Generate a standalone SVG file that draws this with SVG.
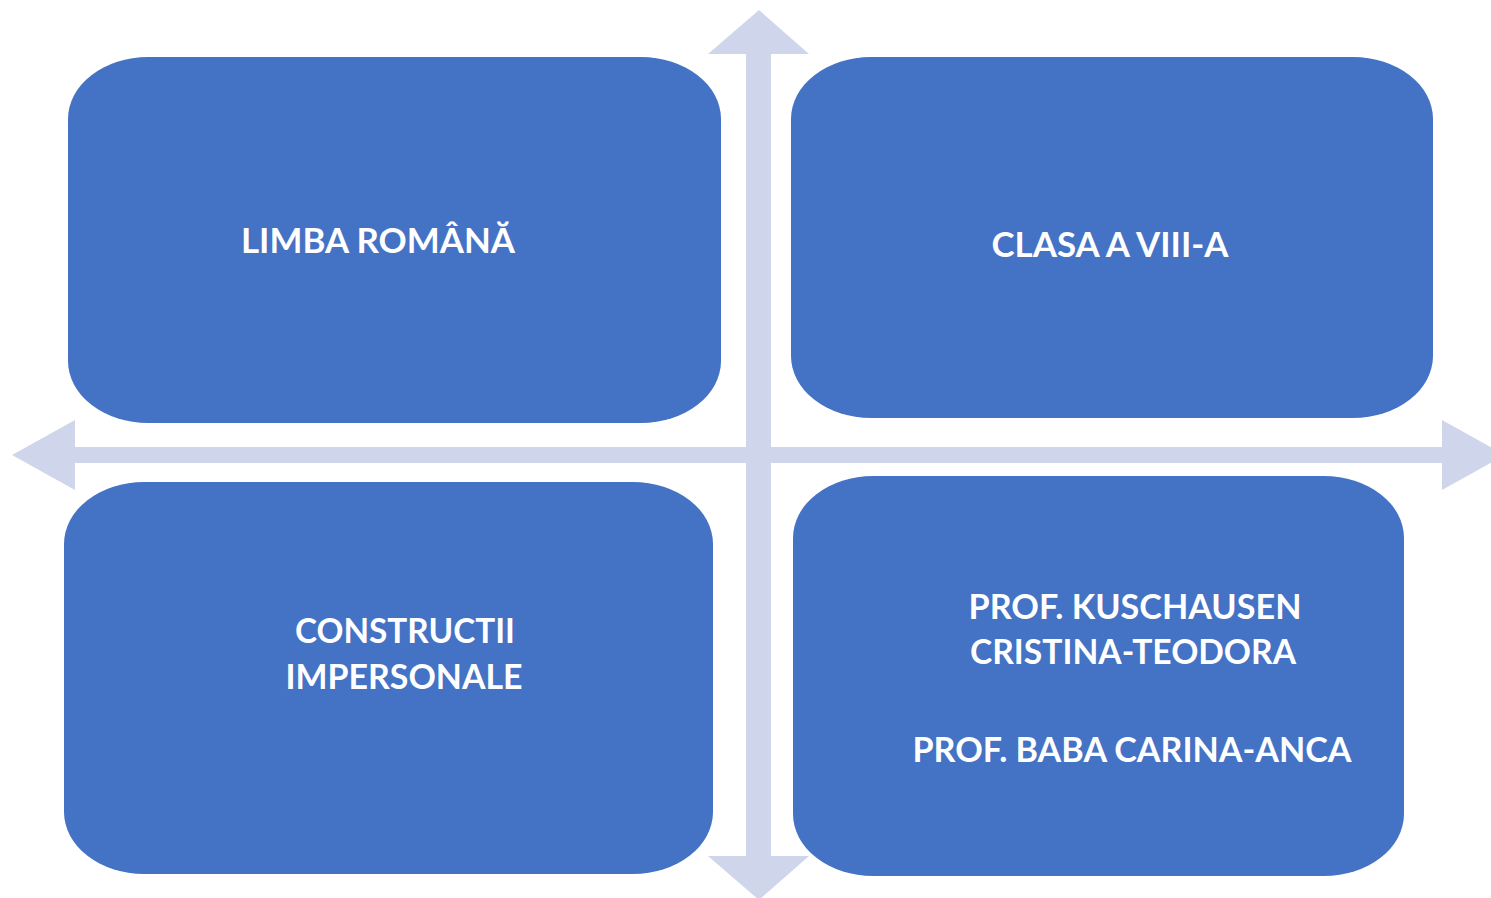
<svg xmlns="http://www.w3.org/2000/svg" width="1491" height="898" viewBox="0 0 1491 898">
  <style>
    .box { fill: #4472C4; }
    .arrow { fill: #CFD5EA; }
    .lbl { font-family: Lato, "Open Sans", "Liberation Sans", sans-serif; font-weight: bold; font-size: 34px; fill: #FFFFFF; text-anchor: middle; }
  </style>
  <rect width="1491" height="898" fill="#FFFFFF"/>
  <g id="connectors">
    <path class="arrow" d="M12,455 L75,420 L75,447 L1442,447 L1442,420 L1505,455 L1442,490 L1442,463 L75,463 L75,490 Z"/>
    <path class="arrow" d="M759,10 L809,54 L771,54 L771,856 L809,856 L759,900 L708,856 L746,856 L746,54 L708,54 Z"/>
  </g>
  <g id="node-limba">
    <rect class="box" x="68" y="57" width="653" height="366" rx="80" ry="62"/>
    <text class="lbl" x="378" y="253" textLength="274" lengthAdjust="spacingAndGlyphs">LIMBA ROMÂNĂ</text>
  </g>
  <g id="node-clasa">
    <rect class="box" x="791" y="57" width="642" height="361" rx="80" ry="62"/>
    <text class="lbl" x="1110" y="257" textLength="237" lengthAdjust="spacingAndGlyphs">CLASA A VIII-A</text>
  </g>
  <g id="node-constructii">
    <rect class="box" x="64" y="482" width="649" height="392" rx="80" ry="62"/>
    <text class="lbl" x="405" y="643" textLength="220" lengthAdjust="spacingAndGlyphs">CONSTRUCTII</text>
    <text class="lbl" x="404" y="689" textLength="237" lengthAdjust="spacingAndGlyphs">IMPERSONALE</text>
  </g>
  <g id="node-prof">
    <rect class="box" x="793" y="476" width="611" height="400" rx="80" ry="62"/>
    <text class="lbl" x="1135" y="619" textLength="333" lengthAdjust="spacingAndGlyphs">PROF. KUSCHAUSEN</text>
    <text class="lbl" x="1133" y="664" textLength="326" lengthAdjust="spacingAndGlyphs">CRISTINA-TEODORA</text>
    <text class="lbl" x="1132" y="762" textLength="439" lengthAdjust="spacingAndGlyphs">PROF. BABA CARINA-ANCA</text>
  </g>
</svg>
